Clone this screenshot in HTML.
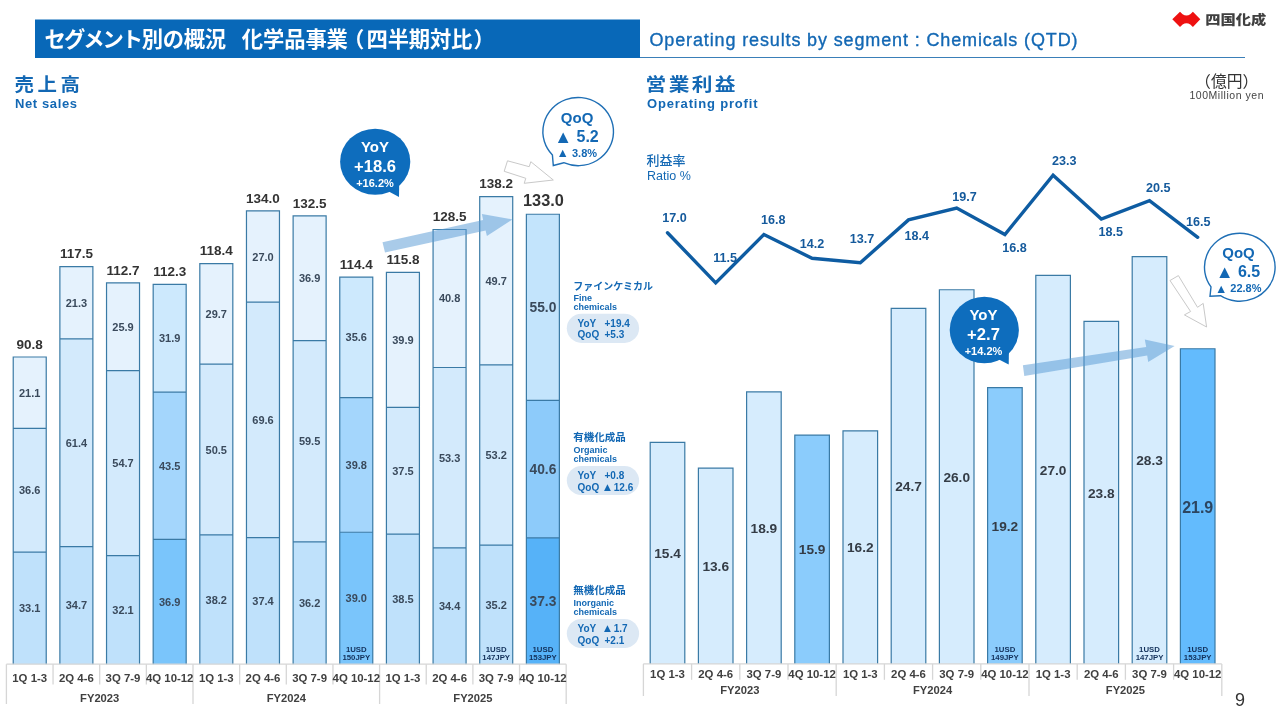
<!DOCTYPE html>
<html lang="ja">
<head>
<meta charset="utf-8">
<title>セグメント別の概況 化学品事業（四半期対比）</title>
<style>
html,body{margin:0;padding:0;background:#fff;}
body{width:1280px;height:720px;overflow:hidden;position:relative;font-family:"Liberation Sans", "Noto Sans CJK JP", sans-serif;}
svg{position:absolute;left:0;top:0;display:block;}
svg text{font-family:"Liberation Sans", "Noto Sans CJK JP", sans-serif;}
</style>
</head>
<body>
<svg width="1280" height="720" viewBox="0 0 1280 720">

<g id="header">
<rect x="35" y="19.5" width="605" height="38.5" fill="#0868b8"/>
<line x1="640" y1="57.5" x2="1245" y2="57.5" stroke="#3a7fb8" stroke-width="1.2"/>
<text y="46.9" font-size="21.3" font-weight="bold" fill="#ffffff"><tspan x="44.6 63.9 83.2 102.5 121.8">セグメント</tspan><tspan x="141.8 162.8 183.8 204.8">別の概況</tspan><tspan x="241.8 263.0 284.2 305.4 326.6">化学品事業</tspan><tspan x="343">（</tspan><tspan x="366.6 387.7 408.8 429.9 451.0">四半期対比</tspan><tspan x="473.6">）</tspan></text>
<text x="649.5" y="45.8" font-size="18" fill="#1368b4" stroke="#1368b4" stroke-width="0.35" textLength="428" lengthAdjust="spacing">Operating results by segment : Chemicals (QTD)</text>
<path d="M1172.3,19.3 L1180,11.8 L1182.6,14.2 Q1186.5,16.6 1190.3,14.2 L1192.9,11.8 L1200.3,19.3 L1192.9,26.9 L1190.3,24.5 Q1186.5,22.1 1182.6,24.5 L1180,26.9 Z" fill="#ee1111"/>
<text x="1205.2" y="24.4" font-size="13" font-weight="900" fill="#404040" textLength="61" lengthAdjust="spacingAndGlyphs">四国化成</text>
<text x="1226.7" y="87.2" font-size="15.8" fill="#333333" text-anchor="middle" font-weight="normal">（億円）</text>
<text x="1226.5" y="98.6" font-size="10.5" fill="#444444" text-anchor="middle" font-weight="normal" textLength="74" lengthAdjust="spacing">100Million yen</text>
</g>
<g id="titles">
<text transform="translate(14.4,91.3) scale(1.08,1)" font-size="18" font-weight="bold" fill="#1368b4" letter-spacing="3.4">売上高</text>
<text x="15" y="108" font-size="13" font-weight="bold" fill="#1368b4" textLength="62" lengthAdjust="spacing">Net sales</text>
<text transform="translate(645.6,91.3) scale(1.15,1)" font-size="18" font-weight="bold" fill="#1368b4" letter-spacing="2.1">営業利益</text>
<text x="647" y="108" font-size="13" font-weight="bold" fill="#1368b4" textLength="110.5" lengthAdjust="spacing">Operating profit</text>
<text x="646.5" y="165" font-size="13" font-weight="500" fill="#1368b4">利益率</text>
<text x="647" y="180" font-size="12.5" font-weight="normal" fill="#1368b4">Ratio %</text>
</g>
<g id="left-chart">
<rect x="13.23" y="357.02" width="33.0" height="71.38" fill="#e5f2fd"/>
<rect x="13.23" y="428.40" width="33.0" height="123.82" fill="#d3eafc"/>
<rect x="13.23" y="552.22" width="33.0" height="111.98" fill="#bfe1fb"/>
<path d="M13.23,664.2 V357.02 H46.23 V664.2 M13.23,428.40 H46.23 M13.23,552.22 H46.23" fill="none" stroke="#3a7aa5" stroke-width="1.2"/>
<text x="29.7" y="396.7" font-size="11" font-weight="bold" fill="#3a4a5c" text-anchor="middle">21.1</text>
<text x="29.7" y="494.3" font-size="11" font-weight="bold" fill="#3a4a5c" text-anchor="middle">36.6</text>
<text x="29.7" y="612.1" font-size="11" font-weight="bold" fill="#3a4a5c" text-anchor="middle">33.1</text>
<text x="29.7" y="348.8" font-size="13.5" font-weight="bold" fill="#333333" text-anchor="middle">90.8</text>
<rect x="59.88" y="266.70" width="33.0" height="72.12" fill="#e5f2fd"/>
<rect x="59.88" y="338.82" width="33.0" height="207.89" fill="#d3eafc"/>
<rect x="59.88" y="546.71" width="33.0" height="117.49" fill="#bfe1fb"/>
<path d="M59.88,664.2 V266.70 H92.88 V664.2 M59.88,338.82 H92.88 M59.88,546.71 H92.88" fill="none" stroke="#3a7aa5" stroke-width="1.2"/>
<text x="76.4" y="306.7" font-size="11" font-weight="bold" fill="#3a4a5c" text-anchor="middle">21.3</text>
<text x="76.4" y="446.7" font-size="11" font-weight="bold" fill="#3a4a5c" text-anchor="middle">61.4</text>
<text x="76.4" y="609.4" font-size="11" font-weight="bold" fill="#3a4a5c" text-anchor="middle">34.7</text>
<text x="76.4" y="258.4" font-size="13.5" font-weight="bold" fill="#333333" text-anchor="middle">117.5</text>
<rect x="106.53" y="282.94" width="33.0" height="87.62" fill="#e5f2fd"/>
<rect x="106.53" y="370.56" width="33.0" height="185.05" fill="#d3eafc"/>
<rect x="106.53" y="555.61" width="33.0" height="108.59" fill="#bfe1fb"/>
<path d="M106.53,664.2 V282.94 H139.53 V664.2 M106.53,370.56 H139.53 M106.53,555.61 H139.53" fill="none" stroke="#3a7aa5" stroke-width="1.2"/>
<text x="123.0" y="330.7" font-size="11" font-weight="bold" fill="#3a4a5c" text-anchor="middle">25.9</text>
<text x="123.0" y="467.0" font-size="11" font-weight="bold" fill="#3a4a5c" text-anchor="middle">54.7</text>
<text x="123.0" y="613.8" font-size="11" font-weight="bold" fill="#3a4a5c" text-anchor="middle">32.1</text>
<text x="123.0" y="274.7" font-size="13.5" font-weight="bold" fill="#333333" text-anchor="middle">112.7</text>
<rect x="153.18" y="284.29" width="33.0" height="107.92" fill="#cde9fd"/>
<rect x="153.18" y="392.21" width="33.0" height="147.16" fill="#a4d6fc"/>
<rect x="153.18" y="539.37" width="33.0" height="124.83" fill="#7ac5fb"/>
<path d="M153.18,664.2 V284.29 H186.18 V664.2 M153.18,392.21 H186.18 M153.18,539.37 H186.18" fill="none" stroke="#3a7aa5" stroke-width="1.2"/>
<text x="169.7" y="342.2" font-size="11" font-weight="bold" fill="#3a4a5c" text-anchor="middle">31.9</text>
<text x="169.7" y="469.7" font-size="11" font-weight="bold" fill="#3a4a5c" text-anchor="middle">43.5</text>
<text x="169.7" y="605.7" font-size="11" font-weight="bold" fill="#3a4a5c" text-anchor="middle">36.9</text>
<text x="169.7" y="276.0" font-size="13.5" font-weight="bold" fill="#333333" text-anchor="middle">112.3</text>
<rect x="199.82" y="263.65" width="33.0" height="100.48" fill="#e5f2fd"/>
<rect x="199.82" y="364.13" width="33.0" height="170.84" fill="#d3eafc"/>
<rect x="199.82" y="534.97" width="33.0" height="129.23" fill="#bfe1fb"/>
<path d="M199.82,664.2 V263.65 H232.82 V664.2 M199.82,364.13 H232.82 M199.82,534.97 H232.82" fill="none" stroke="#3a7aa5" stroke-width="1.2"/>
<text x="216.3" y="317.8" font-size="11" font-weight="bold" fill="#3a4a5c" text-anchor="middle">29.7</text>
<text x="216.3" y="453.5" font-size="11" font-weight="bold" fill="#3a4a5c" text-anchor="middle">50.5</text>
<text x="216.3" y="603.5" font-size="11" font-weight="bold" fill="#3a4a5c" text-anchor="middle">38.2</text>
<text x="216.3" y="255.4" font-size="13.5" font-weight="bold" fill="#333333" text-anchor="middle">118.4</text>
<rect x="246.47" y="210.88" width="33.0" height="91.34" fill="#e5f2fd"/>
<rect x="246.47" y="302.22" width="33.0" height="235.46" fill="#d3eafc"/>
<rect x="246.47" y="537.68" width="33.0" height="126.52" fill="#bfe1fb"/>
<path d="M246.47,664.2 V210.88 H279.47 V664.2 M246.47,302.22 H279.47 M246.47,537.68 H279.47" fill="none" stroke="#3a7aa5" stroke-width="1.2"/>
<text x="263.0" y="260.5" font-size="11" font-weight="bold" fill="#3a4a5c" text-anchor="middle">27.0</text>
<text x="263.0" y="423.9" font-size="11" font-weight="bold" fill="#3a4a5c" text-anchor="middle">69.6</text>
<text x="263.0" y="604.9" font-size="11" font-weight="bold" fill="#3a4a5c" text-anchor="middle">37.4</text>
<text x="263.0" y="202.6" font-size="13.5" font-weight="bold" fill="#333333" text-anchor="middle">134.0</text>
<rect x="293.12" y="215.95" width="33.0" height="124.74" fill="#e5f2fd"/>
<rect x="293.12" y="340.69" width="33.0" height="201.14" fill="#d3eafc"/>
<rect x="293.12" y="541.83" width="33.0" height="122.37" fill="#bfe1fb"/>
<path d="M293.12,664.2 V215.95 H326.12 V664.2 M293.12,340.69 H326.12 M293.12,541.83 H326.12" fill="none" stroke="#3a7aa5" stroke-width="1.2"/>
<text x="309.6" y="282.3" font-size="11" font-weight="bold" fill="#3a4a5c" text-anchor="middle">36.9</text>
<text x="309.6" y="445.2" font-size="11" font-weight="bold" fill="#3a4a5c" text-anchor="middle">59.5</text>
<text x="309.6" y="607.0" font-size="11" font-weight="bold" fill="#3a4a5c" text-anchor="middle">36.2</text>
<text x="309.6" y="207.7" font-size="13.5" font-weight="bold" fill="#333333" text-anchor="middle">132.5</text>
<rect x="339.77" y="277.18" width="33.0" height="120.43" fill="#cde9fd"/>
<rect x="339.77" y="397.62" width="33.0" height="134.64" fill="#a4d6fc"/>
<rect x="339.77" y="532.26" width="33.0" height="131.94" fill="#7ac5fb"/>
<path d="M339.77,664.2 V277.18 H372.77 V664.2 M339.77,397.62 H372.77 M339.77,532.26 H372.77" fill="none" stroke="#3a7aa5" stroke-width="1.2"/>
<text x="356.3" y="341.3" font-size="11" font-weight="bold" fill="#3a4a5c" text-anchor="middle">35.6</text>
<text x="356.3" y="468.9" font-size="11" font-weight="bold" fill="#3a4a5c" text-anchor="middle">39.8</text>
<text x="356.3" y="602.2" font-size="11" font-weight="bold" fill="#3a4a5c" text-anchor="middle">39.0</text>
<text x="356.3" y="268.9" font-size="13.5" font-weight="bold" fill="#333333" text-anchor="middle">114.4</text>
<text x="356.3" y="652.0" font-size="7.8" font-weight="bold" fill="#12305a" text-anchor="middle">1USD</text>
<text x="356.3" y="659.8" font-size="7.8" font-weight="bold" fill="#12305a" text-anchor="middle">150JPY</text>
<rect x="386.42" y="272.45" width="33.0" height="134.87" fill="#e5f2fd"/>
<rect x="386.42" y="407.31" width="33.0" height="126.75" fill="#d3eafc"/>
<rect x="386.42" y="534.07" width="33.0" height="130.13" fill="#bfe1fb"/>
<path d="M386.42,664.2 V272.45 H419.42 V664.2 M386.42,407.31 H419.42 M386.42,534.07 H419.42" fill="none" stroke="#3a7aa5" stroke-width="1.2"/>
<text x="402.9" y="343.8" font-size="11" font-weight="bold" fill="#3a4a5c" text-anchor="middle">39.9</text>
<text x="402.9" y="474.6" font-size="11" font-weight="bold" fill="#3a4a5c" text-anchor="middle">37.5</text>
<text x="402.9" y="603.1" font-size="11" font-weight="bold" fill="#3a4a5c" text-anchor="middle">38.5</text>
<text x="402.9" y="264.2" font-size="13.5" font-weight="bold" fill="#333333" text-anchor="middle">115.8</text>
<rect x="433.07" y="229.48" width="33.0" height="138.03" fill="#e5f2fd"/>
<rect x="433.07" y="367.51" width="33.0" height="180.31" fill="#d3eafc"/>
<rect x="433.07" y="547.82" width="33.0" height="116.38" fill="#bfe1fb"/>
<path d="M433.07,664.2 V229.48 H466.07 V664.2 M433.07,367.51 H466.07 M433.07,547.82 H466.07" fill="none" stroke="#3a7aa5" stroke-width="1.2"/>
<text x="449.6" y="302.4" font-size="11" font-weight="bold" fill="#3a4a5c" text-anchor="middle">40.8</text>
<text x="449.6" y="461.6" font-size="11" font-weight="bold" fill="#3a4a5c" text-anchor="middle">53.3</text>
<text x="449.6" y="610.0" font-size="11" font-weight="bold" fill="#3a4a5c" text-anchor="middle">34.4</text>
<text x="449.6" y="221.2" font-size="13.5" font-weight="bold" fill="#333333" text-anchor="middle">128.5</text>
<rect x="479.72" y="196.67" width="33.0" height="168.26" fill="#e5f2fd"/>
<rect x="479.72" y="364.93" width="33.0" height="180.11" fill="#d3eafc"/>
<rect x="479.72" y="545.03" width="33.0" height="119.17" fill="#bfe1fb"/>
<path d="M479.72,664.2 V196.67 H512.72 V664.2 M479.72,364.93 H512.72 M479.72,545.03 H512.72" fill="none" stroke="#3a7aa5" stroke-width="1.2"/>
<text x="496.2" y="284.7" font-size="11" font-weight="bold" fill="#3a4a5c" text-anchor="middle">49.7</text>
<text x="496.2" y="458.9" font-size="11" font-weight="bold" fill="#3a4a5c" text-anchor="middle">53.2</text>
<text x="496.2" y="608.6" font-size="11" font-weight="bold" fill="#3a4a5c" text-anchor="middle">35.2</text>
<text x="496.2" y="188.4" font-size="13.5" font-weight="bold" fill="#333333" text-anchor="middle">138.2</text>
<text x="496.2" y="652.0" font-size="7.8" font-weight="bold" fill="#12305a" text-anchor="middle">1USD</text>
<text x="496.2" y="659.8" font-size="7.8" font-weight="bold" fill="#12305a" text-anchor="middle">147JPY</text>
<rect x="526.38" y="214.26" width="33.0" height="186.21" fill="#c3e4fc"/>
<rect x="526.38" y="400.47" width="33.0" height="137.45" fill="#8dcbfa"/>
<rect x="526.38" y="537.92" width="33.0" height="126.28" fill="#56b2f8"/>
<path d="M526.38,664.2 V214.26 H559.38 V664.2 M526.38,400.47 H559.38 M526.38,537.92 H559.38" fill="none" stroke="#3a7aa5" stroke-width="1.2"/>
<text x="542.9" y="312.3" font-size="13.8" font-weight="bold" fill="#3a4a5c" text-anchor="middle">55.0</text>
<text x="542.9" y="474.1" font-size="13.8" font-weight="bold" fill="#3a4a5c" text-anchor="middle">40.6</text>
<text x="542.9" y="606.0" font-size="13.8" font-weight="bold" fill="#3a4a5c" text-anchor="middle">37.3</text>
<text x="543.4" y="205.8" font-size="16.3" font-weight="bold" fill="#333333" text-anchor="middle">133.0</text>
<text x="542.9" y="652.0" font-size="7.8" font-weight="bold" fill="#12305a" text-anchor="middle">1USD</text>
<text x="542.9" y="659.8" font-size="7.8" font-weight="bold" fill="#12305a" text-anchor="middle">153JPY</text>
<path d="M6.4,664.2 H566.20" stroke="#d6d6d6" stroke-width="1.3" fill="none"/>
<line x1="6.40" y1="664.2" x2="6.40" y2="704" stroke="#d6d6d6" stroke-width="1.3"/>
<line x1="53.05" y1="664.2" x2="53.05" y2="684.5" stroke="#d6d6d6" stroke-width="1.3"/>
<line x1="99.70" y1="664.2" x2="99.70" y2="684.5" stroke="#d6d6d6" stroke-width="1.3"/>
<line x1="146.35" y1="664.2" x2="146.35" y2="684.5" stroke="#d6d6d6" stroke-width="1.3"/>
<line x1="193.00" y1="664.2" x2="193.00" y2="704" stroke="#d6d6d6" stroke-width="1.3"/>
<line x1="239.65" y1="664.2" x2="239.65" y2="684.5" stroke="#d6d6d6" stroke-width="1.3"/>
<line x1="286.30" y1="664.2" x2="286.30" y2="684.5" stroke="#d6d6d6" stroke-width="1.3"/>
<line x1="332.95" y1="664.2" x2="332.95" y2="684.5" stroke="#d6d6d6" stroke-width="1.3"/>
<line x1="379.60" y1="664.2" x2="379.60" y2="704" stroke="#d6d6d6" stroke-width="1.3"/>
<line x1="426.25" y1="664.2" x2="426.25" y2="684.5" stroke="#d6d6d6" stroke-width="1.3"/>
<line x1="472.90" y1="664.2" x2="472.90" y2="684.5" stroke="#d6d6d6" stroke-width="1.3"/>
<line x1="519.55" y1="664.2" x2="519.55" y2="684.5" stroke="#d6d6d6" stroke-width="1.3"/>
<line x1="566.20" y1="664.2" x2="566.20" y2="704" stroke="#d6d6d6" stroke-width="1.3"/>
<text x="29.7" y="682.1" font-size="11.4" font-weight="bold" fill="#404040" text-anchor="middle">1Q 1-3</text>
<text x="76.4" y="682.1" font-size="11.4" font-weight="bold" fill="#404040" text-anchor="middle">2Q 4-6</text>
<text x="123.0" y="682.1" font-size="11.4" font-weight="bold" fill="#404040" text-anchor="middle">3Q 7-9</text>
<text x="169.7" y="682.1" font-size="11.4" font-weight="bold" fill="#404040" text-anchor="middle">4Q 10-12</text>
<text x="216.3" y="682.1" font-size="11.4" font-weight="bold" fill="#404040" text-anchor="middle">1Q 1-3</text>
<text x="263.0" y="682.1" font-size="11.4" font-weight="bold" fill="#404040" text-anchor="middle">2Q 4-6</text>
<text x="309.6" y="682.1" font-size="11.4" font-weight="bold" fill="#404040" text-anchor="middle">3Q 7-9</text>
<text x="356.3" y="682.1" font-size="11.4" font-weight="bold" fill="#404040" text-anchor="middle">4Q 10-12</text>
<text x="402.9" y="682.1" font-size="11.4" font-weight="bold" fill="#404040" text-anchor="middle">1Q 1-3</text>
<text x="449.6" y="682.1" font-size="11.4" font-weight="bold" fill="#404040" text-anchor="middle">2Q 4-6</text>
<text x="496.2" y="682.1" font-size="11.4" font-weight="bold" fill="#404040" text-anchor="middle">3Q 7-9</text>
<text x="542.9" y="682.1" font-size="11.4" font-weight="bold" fill="#404040" text-anchor="middle">4Q 10-12</text>
<text x="99.7" y="701.8" font-size="11.2" font-weight="bold" fill="#404040" text-anchor="middle">FY2023</text>
<text x="286.3" y="701.8" font-size="11.2" font-weight="bold" fill="#404040" text-anchor="middle">FY2024</text>
<text x="472.9" y="701.8" font-size="11.2" font-weight="bold" fill="#404040" text-anchor="middle">FY2025</text>
</g>
<g id="right-chart">
<rect x="650.20" y="442.29" width="34.6" height="221.61" fill="#d6ecfd"/>
<path d="M650.20,663.9 V442.29 H684.80 V663.9" fill="none" stroke="#3a7aa5" stroke-width="1.2"/>
<text x="667.5" y="558.0" font-size="13.7" font-weight="bold" fill="#343c46" text-anchor="middle">15.4</text>
<rect x="698.40" y="468.20" width="34.6" height="195.70" fill="#d6ecfd"/>
<path d="M698.40,663.9 V468.20 H733.00 V663.9" fill="none" stroke="#3a7aa5" stroke-width="1.2"/>
<text x="715.7" y="571.0" font-size="13.7" font-weight="bold" fill="#343c46" text-anchor="middle">13.6</text>
<rect x="746.60" y="391.93" width="34.6" height="271.97" fill="#d6ecfd"/>
<path d="M746.60,663.9 V391.93 H781.20 V663.9" fill="none" stroke="#3a7aa5" stroke-width="1.2"/>
<text x="763.9" y="532.8" font-size="13.7" font-weight="bold" fill="#343c46" text-anchor="middle">18.9</text>
<rect x="794.80" y="435.10" width="34.6" height="228.80" fill="#8bccfc"/>
<path d="M794.80,663.9 V435.10 H829.40 V663.9" fill="none" stroke="#3a7aa5" stroke-width="1.2"/>
<text x="812.1" y="554.4" font-size="13.7" font-weight="bold" fill="#343c46" text-anchor="middle">15.9</text>
<rect x="843.00" y="430.78" width="34.6" height="233.12" fill="#d6ecfd"/>
<path d="M843.00,663.9 V430.78 H877.60 V663.9" fill="none" stroke="#3a7aa5" stroke-width="1.2"/>
<text x="860.3" y="552.2" font-size="13.7" font-weight="bold" fill="#343c46" text-anchor="middle">16.2</text>
<rect x="891.20" y="308.47" width="34.6" height="355.43" fill="#d6ecfd"/>
<path d="M891.20,663.9 V308.47 H925.80 V663.9" fill="none" stroke="#3a7aa5" stroke-width="1.2"/>
<text x="908.5" y="491.1" font-size="13.7" font-weight="bold" fill="#343c46" text-anchor="middle">24.7</text>
<rect x="939.40" y="289.76" width="34.6" height="374.14" fill="#d6ecfd"/>
<path d="M939.40,663.9 V289.76 H974.00 V663.9" fill="none" stroke="#3a7aa5" stroke-width="1.2"/>
<text x="956.7" y="481.7" font-size="13.7" font-weight="bold" fill="#343c46" text-anchor="middle">26.0</text>
<rect x="987.60" y="387.61" width="34.6" height="276.29" fill="#8bccfc"/>
<path d="M987.60,663.9 V387.61 H1022.20 V663.9" fill="none" stroke="#3a7aa5" stroke-width="1.2"/>
<text x="1004.9" y="530.7" font-size="13.7" font-weight="bold" fill="#343c46" text-anchor="middle">19.2</text>
<text x="1004.9" y="652.0" font-size="7.8" font-weight="bold" fill="#12305a" text-anchor="middle">1USD</text>
<text x="1004.9" y="659.8" font-size="7.8" font-weight="bold" fill="#12305a" text-anchor="middle">149JPY</text>
<rect x="1035.80" y="275.37" width="34.6" height="388.53" fill="#d6ecfd"/>
<path d="M1035.80,663.9 V275.37 H1070.40 V663.9" fill="none" stroke="#3a7aa5" stroke-width="1.2"/>
<text x="1053.1" y="474.5" font-size="13.7" font-weight="bold" fill="#343c46" text-anchor="middle">27.0</text>
<rect x="1084.00" y="321.42" width="34.6" height="342.48" fill="#d6ecfd"/>
<path d="M1084.00,663.9 V321.42 H1118.60 V663.9" fill="none" stroke="#3a7aa5" stroke-width="1.2"/>
<text x="1101.3" y="497.6" font-size="13.7" font-weight="bold" fill="#343c46" text-anchor="middle">23.8</text>
<rect x="1132.20" y="256.66" width="34.6" height="407.24" fill="#d6ecfd"/>
<path d="M1132.20,663.9 V256.66 H1166.80 V663.9" fill="none" stroke="#3a7aa5" stroke-width="1.2"/>
<text x="1149.5" y="465.2" font-size="13.7" font-weight="bold" fill="#343c46" text-anchor="middle">28.3</text>
<text x="1149.5" y="652.0" font-size="7.8" font-weight="bold" fill="#12305a" text-anchor="middle">1USD</text>
<text x="1149.5" y="659.8" font-size="7.8" font-weight="bold" fill="#12305a" text-anchor="middle">147JPY</text>
<rect x="1180.40" y="348.76" width="34.6" height="315.14" fill="#63bbfd"/>
<path d="M1180.40,663.9 V348.76 H1215.00 V663.9" fill="none" stroke="#3a7aa5" stroke-width="1.2"/>
<text x="1197.7" y="512.6" font-size="16" font-weight="bold" fill="#2c4560" text-anchor="middle">21.9</text>
<text x="1197.7" y="652.0" font-size="7.8" font-weight="bold" fill="#12305a" text-anchor="middle">1USD</text>
<text x="1197.7" y="659.8" font-size="7.8" font-weight="bold" fill="#12305a" text-anchor="middle">153JPY</text>
<path d="M643.4,663.9 H1221.80" stroke="#d6d6d6" stroke-width="1.3" fill="none"/>
<line x1="643.40" y1="663.9" x2="643.40" y2="696" stroke="#d6d6d6" stroke-width="1.3"/>
<line x1="691.60" y1="663.9" x2="691.60" y2="679.8" stroke="#d6d6d6" stroke-width="1.3"/>
<line x1="739.80" y1="663.9" x2="739.80" y2="679.8" stroke="#d6d6d6" stroke-width="1.3"/>
<line x1="788.00" y1="663.9" x2="788.00" y2="679.8" stroke="#d6d6d6" stroke-width="1.3"/>
<line x1="836.20" y1="663.9" x2="836.20" y2="696" stroke="#d6d6d6" stroke-width="1.3"/>
<line x1="884.40" y1="663.9" x2="884.40" y2="679.8" stroke="#d6d6d6" stroke-width="1.3"/>
<line x1="932.60" y1="663.9" x2="932.60" y2="679.8" stroke="#d6d6d6" stroke-width="1.3"/>
<line x1="980.80" y1="663.9" x2="980.80" y2="679.8" stroke="#d6d6d6" stroke-width="1.3"/>
<line x1="1029.00" y1="663.9" x2="1029.00" y2="696" stroke="#d6d6d6" stroke-width="1.3"/>
<line x1="1077.20" y1="663.9" x2="1077.20" y2="679.8" stroke="#d6d6d6" stroke-width="1.3"/>
<line x1="1125.40" y1="663.9" x2="1125.40" y2="679.8" stroke="#d6d6d6" stroke-width="1.3"/>
<line x1="1173.60" y1="663.9" x2="1173.60" y2="679.8" stroke="#d6d6d6" stroke-width="1.3"/>
<line x1="1221.80" y1="663.9" x2="1221.80" y2="696" stroke="#d6d6d6" stroke-width="1.3"/>
<text x="667.5" y="677.7" font-size="11.4" font-weight="bold" fill="#404040" text-anchor="middle">1Q 1-3</text>
<text x="715.7" y="677.7" font-size="11.4" font-weight="bold" fill="#404040" text-anchor="middle">2Q 4-6</text>
<text x="763.9" y="677.7" font-size="11.4" font-weight="bold" fill="#404040" text-anchor="middle">3Q 7-9</text>
<text x="812.1" y="677.7" font-size="11.4" font-weight="bold" fill="#404040" text-anchor="middle">4Q 10-12</text>
<text x="860.3" y="677.7" font-size="11.4" font-weight="bold" fill="#404040" text-anchor="middle">1Q 1-3</text>
<text x="908.5" y="677.7" font-size="11.4" font-weight="bold" fill="#404040" text-anchor="middle">2Q 4-6</text>
<text x="956.7" y="677.7" font-size="11.4" font-weight="bold" fill="#404040" text-anchor="middle">3Q 7-9</text>
<text x="1004.9" y="677.7" font-size="11.4" font-weight="bold" fill="#404040" text-anchor="middle">4Q 10-12</text>
<text x="1053.1" y="677.7" font-size="11.4" font-weight="bold" fill="#404040" text-anchor="middle">1Q 1-3</text>
<text x="1101.3" y="677.7" font-size="11.4" font-weight="bold" fill="#404040" text-anchor="middle">2Q 4-6</text>
<text x="1149.5" y="677.7" font-size="11.4" font-weight="bold" fill="#404040" text-anchor="middle">3Q 7-9</text>
<text x="1197.7" y="677.7" font-size="11.4" font-weight="bold" fill="#404040" text-anchor="middle">4Q 10-12</text>
<text x="739.8" y="693.7" font-size="11.2" font-weight="bold" fill="#404040" text-anchor="middle">FY2023</text>
<text x="932.6" y="693.7" font-size="11.2" font-weight="bold" fill="#404040" text-anchor="middle">FY2024</text>
<text x="1125.4" y="693.7" font-size="11.2" font-weight="bold" fill="#404040" text-anchor="middle">FY2025</text>
<polyline points="667.5,232.7 715.7,282.9 763.9,234.5 812.1,258.3 860.3,262.8 908.5,219.9 956.7,208.0 1004.9,234.5 1053.1,175.2 1101.3,219.0 1149.5,200.7 1197.7,237.3" fill="none" stroke="#0e5ca2" stroke-width="3.4" stroke-linejoin="miter" stroke-linecap="round"/>
<text x="674.4" y="222.4" font-size="12.6" font-weight="bold" fill="#155a9c" text-anchor="middle">17.0</text>
<text x="725.2" y="261.6" font-size="12.6" font-weight="bold" fill="#155a9c" text-anchor="middle">11.5</text>
<text x="773.3" y="224.4" font-size="12.6" font-weight="bold" fill="#155a9c" text-anchor="middle">16.8</text>
<text x="811.9" y="248.2" font-size="12.6" font-weight="bold" fill="#155a9c" text-anchor="middle">14.2</text>
<text x="861.9" y="242.7" font-size="12.6" font-weight="bold" fill="#155a9c" text-anchor="middle">13.7</text>
<text x="916.8" y="239.8" font-size="12.6" font-weight="bold" fill="#155a9c" text-anchor="middle">18.4</text>
<text x="964.5" y="200.5" font-size="12.6" font-weight="bold" fill="#155a9c" text-anchor="middle">19.7</text>
<text x="1014.6" y="252.2" font-size="12.6" font-weight="bold" fill="#155a9c" text-anchor="middle">16.8</text>
<text x="1064.2" y="165.1" font-size="12.6" font-weight="bold" fill="#155a9c" text-anchor="middle">23.3</text>
<text x="1110.7" y="236.3" font-size="12.6" font-weight="bold" fill="#155a9c" text-anchor="middle">18.5</text>
<text x="1158.3" y="191.5" font-size="12.6" font-weight="bold" fill="#155a9c" text-anchor="middle">20.5</text>
<text x="1198.3" y="226.1" font-size="12.6" font-weight="bold" fill="#155a9c" text-anchor="middle">16.5</text>
</g>
<g id="legends">
<text x="573.3" y="289.8" font-size="10.0" font-weight="bold" fill="#1368b4">ファインケミカル</text>
<text x="573.5" y="300.5" font-size="9" font-weight="bold" fill="#1368b4">Fine</text>
<text x="573.5" y="309.8" font-size="9" font-weight="bold" fill="#1368b4">chemicals</text>
<rect x="566.8" y="313.7" width="72.3" height="29.2" rx="14.6" fill="#dce8f4"/>
<text x="577.5" y="326.6" font-size="10" font-weight="bold" fill="#1368b4">YoY</text>
<text x="604.5" y="326.6" font-size="10" font-weight="bold" fill="#1368b4">+19.4</text>
<text x="577.5" y="338.4" font-size="10" font-weight="bold" fill="#1368b4">QoQ</text>
<text x="604.5" y="338.4" font-size="10" font-weight="bold" fill="#1368b4">+5.3</text>
<text x="573.3" y="440.6" font-size="10.5" font-weight="bold" fill="#1368b4">有機化成品</text>
<text x="573.5" y="452.7" font-size="9" font-weight="bold" fill="#1368b4">Organic</text>
<text x="573.5" y="462.0" font-size="9" font-weight="bold" fill="#1368b4">chemicals</text>
<rect x="566.8" y="465.9" width="72.3" height="29.2" rx="14.6" fill="#dce8f4"/>
<text x="577.5" y="478.8" font-size="10" font-weight="bold" fill="#1368b4">YoY</text>
<text x="604.5" y="478.8" font-size="10" font-weight="bold" fill="#1368b4">+0.8</text>
<text x="577.5" y="490.6" font-size="10" font-weight="bold" fill="#1368b4">QoQ</text>
<text x="601.7" y="490.6" font-size="10" font-weight="bold" fill="#1368b4"><tspan font-size="11.5" dy="0.3">▲</tspan><tspan dx="0.7" dy="-0.3">12.6</tspan></text>
<text x="573.3" y="593.6" font-size="10.5" font-weight="bold" fill="#1368b4">無機化成品</text>
<text x="573.5" y="605.7" font-size="9" font-weight="bold" fill="#1368b4">Inorganic</text>
<text x="573.5" y="615.0" font-size="9" font-weight="bold" fill="#1368b4">chemicals</text>
<rect x="566.8" y="618.9" width="72.3" height="29.2" rx="14.6" fill="#dce8f4"/>
<text x="577.5" y="631.8" font-size="10" font-weight="bold" fill="#1368b4">YoY</text>
<text x="601.7" y="631.8" font-size="10" font-weight="bold" fill="#1368b4"><tspan font-size="11.5" dy="0.3">▲</tspan><tspan dx="0.7" dy="-0.3">1.7</tspan></text>
<text x="577.5" y="643.6" font-size="10" font-weight="bold" fill="#1368b4">QoQ</text>
<text x="604.5" y="643.6" font-size="10" font-weight="bold" fill="#1368b4">+2.1</text>
</g>
<g id="callouts">
<polygon points="382.5,242.3 483.1,220 481.9,214 512.5,219.4 486.9,236 485.6,230.6 385,252.5" fill="#5b9bd5" fill-opacity="0.52"/>
<polygon points="1022.9,365.3 1146.2,347 1144.8,339.5 1174.6,346 1148.2,361.9 1147.2,355.6 1024.3,375.9" fill="#5b9bd5" fill-opacity="0.52"/>
<polygon points="507.5,160.8 529.2,166.7 530.8,161.7 553.3,180 524.2,183.3 525.8,178.3 504.2,171.3" fill="#ffffff" stroke="#c9c9c9" stroke-width="1"/>
<polygon points="1178.4,275.6 1197.5,307.3 1203.2,303.4 1206.6,327 1184.4,314.9 1190.6,311.5 1170,280.5" fill="#ffffff" stroke="#c9c9c9" stroke-width="1"/>
<g><ellipse cx="375.2" cy="161.7" rx="35.1" ry="33" fill="#0e6dbd"/><polygon points="386,190 399.2,183 399,197" fill="#0e6dbd"/>
<text x="375.0" y="151.5" font-size="15" font-weight="bold" fill="#fff" text-anchor="middle">YoY</text>
<text x="375.0" y="171.7" font-size="16.6" font-weight="bold" fill="#fff" text-anchor="middle">+18.6</text>
<text x="375.0" y="186.8" font-size="11" font-weight="bold" fill="#fff" text-anchor="middle">+16.2%</text>
</g>
<g><ellipse cx="984.3" cy="330" rx="34.6" ry="33.3" fill="#0e6dbd"/><polygon points="996,358 1008.9,352 1008.7,364.5" fill="#0e6dbd"/>
<text x="983.5" y="319.5" font-size="15" font-weight="bold" fill="#fff" text-anchor="middle">YoY</text>
<text x="983.5" y="339.7" font-size="16.6" font-weight="bold" fill="#fff" text-anchor="middle">+2.7</text>
<text x="983.5" y="354.6" font-size="11" font-weight="bold" fill="#fff" text-anchor="middle">+14.2%</text>
</g>
<path d="M552.4,154.9 L553.3,165.5 L563.7,162.7 A35.3,34.1 0 1 0 552.4,154.9 Z" fill="#ffffff" stroke="#1f6fb5" stroke-width="1.4" stroke-linejoin="miter"/>
<text x="577.1" y="122.6" font-size="15" font-weight="bold" fill="#1368b4" text-anchor="middle">QoQ</text>
<text x="576.5" y="141.8" font-size="16" font-weight="bold" fill="#1368b4" text-anchor="middle"><tspan font-size="18" dy="0.8">▲</tspan><tspan dy="-0.8"> 5.2</tspan></text>
<text x="576.8" y="156.7" font-size="11" font-weight="bold" fill="#1368b4" text-anchor="middle"><tspan font-size="12.5" dy="0.4">▲</tspan><tspan dy="-0.4"> 3.8%</tspan></text>
<path d="M1211.0,286.9 L1210.0,296.3 L1220.5,295.7 A35.3,34.0 0 1 0 1211.0,286.9 Z" fill="#ffffff" stroke="#1f6fb5" stroke-width="1.4" stroke-linejoin="miter"/>
<text x="1238.5" y="258.1" font-size="15" font-weight="bold" fill="#1368b4" text-anchor="middle">QoQ</text>
<text x="1237.9" y="277.3" font-size="16" font-weight="bold" fill="#1368b4" text-anchor="middle"><tspan font-size="18" dy="0.8">▲</tspan><tspan dy="-0.8"> 6.5</tspan></text>
<text x="1238.2" y="292.2" font-size="11" font-weight="bold" fill="#1368b4" text-anchor="middle"><tspan font-size="12.5" dy="0.4">▲</tspan><tspan dy="-0.4"> 22.8%</tspan></text>
</g>
<text x="1240" y="706" font-size="18" fill="#333333" text-anchor="middle" font-weight="normal">9</text>
</svg>
</body>
</html>
